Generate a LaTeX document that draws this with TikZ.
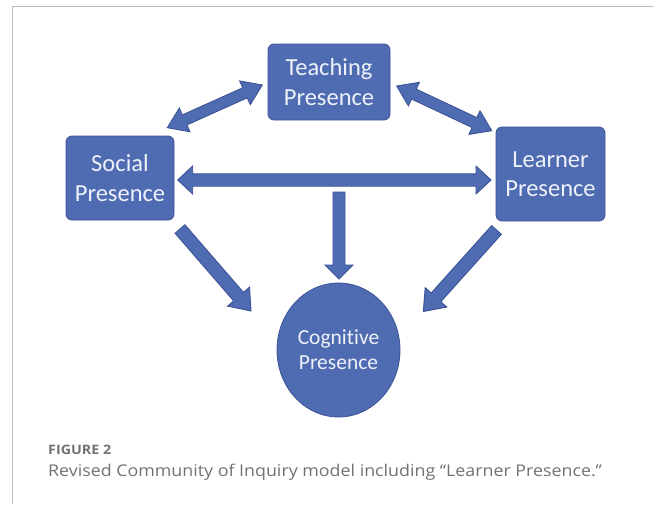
\documentclass[tikz,border=0pt]{standalone}
\usepackage{fontspec}
\setmainfont{Carlito}[Ligatures={NoCommon}]
\newfontfamily\capfont{Open Sans}[FakeStretch=1.1]
\usetikzlibrary{calc,shapes.geometric}
\definecolor{boxblue}{HTML}{4F6CB3}
\definecolor{edgeblue}{HTML}{3C5395}
\definecolor{txtwhite}{HTML}{EEF1F8}
\definecolor{capgray}{HTML}{727272}
\definecolor{framegray}{HTML}{BDBDBD}
\tikzset{
  box/.style={draw=edgeblue, line width=0.8pt, fill=boxblue, rounded corners=6pt,
    text=txtwhite, font=\fontsize{24.5}{29.5}\selectfont, align=center, inner sep=0pt},
  roundbox/.style={ellipse, draw=edgeblue, line width=0.8pt, fill=boxblue,
    text=txtwhite, font=\fontsize{21.5}{25}\selectfont, align=center, inner sep=0pt},
  fatarrow/.style={fill=boxblue, draw=edgeblue, line width=0.9pt, line join=miter},
  captitle/.style={anchor=base west, inner sep=0pt, text=capgray, font=\capfont\bfseries\fontsize{13}{15}\selectfont},
  captext/.style={anchor=base west, inner sep=0pt, text=capgray, font=\capfont\fontsize{16.2}{19}\selectfont},
}
% single-headed block arrow: start, end, shaft half width, head half width, head length
\newcommand{\oneway}[5]{%
  \coordinate (hh) at ($(#2)!#5!(#1)$);
  \filldraw[fatarrow] ($(#1)!#3!90:(#2)$) -- ($(hh)!#3!90:(#2)$) -- ($(hh)!#4!90:(#2)$) -- (#2)
    -- ($(hh)!#4!-90:(#2)$) -- ($(hh)!#3!-90:(#2)$) -- ($(#1)!#3!-90:(#2)$) -- cycle;}
% double-headed block arrow
\newcommand{\twoway}[5]{%
  \coordinate (ha) at ($(#1)!#5!(#2)$);
  \coordinate (hb) at ($(#2)!#5!(#1)$);
  \filldraw[fatarrow] (#1) -- ($(ha)!#4!90:(#2)$) -- ($(ha)!#3!90:(#2)$) -- ($(hb)!#3!90:(#2)$)
    -- ($(hb)!#4!90:(#2)$) -- (#2) -- ($(hb)!#4!-90:(#2)$) -- ($(hb)!#3!-90:(#2)$)
    -- ($(ha)!#3!-90:(#2)$) -- ($(ha)!#4!-90:(#2)$) -- cycle;}
\begin{document}
\begin{tikzpicture}[x=1pt, y=-1pt]
\useasboundingbox (0,0) rectangle (654,504);
\fill[white] (0,0) rectangle (654,504);
% frame
\draw[framegray, line width=1.5pt] (12.7,504) -- (12.7,6.5) -- (654,6.5);

% nodes
\node[box, minimum width=122pt, minimum height=76pt] (teach) at (329,82) {Teaching\\Presence};
\node[box, minimum width=108pt, minimum height=84pt] (social) at (120,178) {Social\\Presence};
\node[box, minimum width=109pt, minimum height=94pt] (learner) at (550.5,174) {Learner\\Presence};
\node[roundbox, minimum width=123pt, minimum height=134pt] (cog) at (338.5,350) {Cognitive\\Presence};

% arrow end points
\coordinate (tlA) at (167.3,127.7);
\coordinate (tlB) at (262.3,85);
\coordinate (trA) at (396.7,86);
\coordinate (trB) at (491.7,130.7);
\coordinate (hzA) at (177.7,180);
\coordinate (hzB) at (491,180);
\coordinate (vtA) at (339,192);
\coordinate (vtB) at (339,279);
\coordinate (dlA) at (180,229);
\coordinate (dlB) at (251,311);
\coordinate (drA) at (496.5,230);
\coordinate (drB) at (423.3,311.5);

% connectors
\twoway{tlA}{tlB}{5.5pt}{13pt}{19pt}
\twoway{trA}{trB}{5.5pt}{13pt}{19pt}
\twoway{hzA}{hzB}{6.2pt}{14pt}{15pt}
\oneway{vtA}{vtB}{6pt}{14pt}{14pt}
\oneway{dlA}{dlB}{6.5pt}{14.5pt}{19pt}
\oneway{drA}{drB}{6.5pt}{14.5pt}{19pt}

% caption
\node[captitle] (figlabel) at (48,454) {FIGURE 2};
\node[captext] (figcap) at (48,476.5) {Revised Community of Inquiry model including “Learner Presence.”};
\end{tikzpicture}
\end{document}
